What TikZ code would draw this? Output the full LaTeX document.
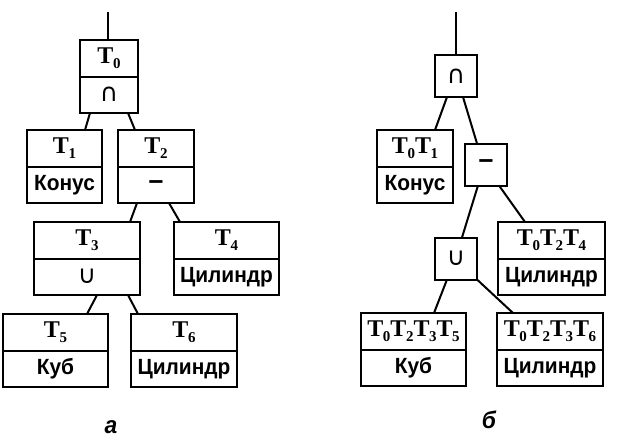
\documentclass[tikz,border=0pt]{standalone}
\usepackage{fontspec}
\setmainfont{Liberation Serif}
\newfontfamily\rusf[FakeStretch=0.95]{Liberation Sans}
\newfontfamily\symf{DejaVu Sans}
\newfontfamily\serf{Liberation Serif}
\newcommand\Tn[1]{T\kern-0.5pt\raisebox{-5pt}{\fontsize{15}{15}\selectfont #1}}
\newcommand\topfont{\serf\bfseries\fontsize{24}{24}\selectfont}
\newcommand\lowfont{\rusf\bfseries\fontsize{22}{22}\selectfont}
\newcommand\opfont{\symf\mdseries\fontsize{25}{25}\selectfont}
\newcommand\minusfont{\rusf\bfseries\fontsize{28}{28}\selectfont}
\newcommand\twobox[6]{%
  \node[cell, minimum width=#4] (#1a) at (#2,#3) {\topfont #5};
  \node[cell, minimum width=#4] (#1b) at (#1a.south) {\lowfont #6};
}
\tikzset{
  cell/.style={draw, line width=2pt, inner sep=0pt, outer sep=0pt, anchor=north, minimum height=36.5pt},
  opbox/.style={draw, line width=2pt, inner sep=0pt, outer sep=0pt, minimum width=42pt, minimum height=42pt},
  link/.style={line width=2pt},
  caption/.style={font=\rusf\bfseries\itshape\fontsize{24}{24}\selectfont, inner sep=0pt}
}
\begin{document}
\begin{tikzpicture}[x=1pt,y=-1pt]
\useasboundingbox (0,0) rectangle (621,445);
% ---------- tree a ----------
\twobox{t0}{109}{40}{58pt}{\Tn0}{\opfont ∩}
\twobox{t1}{64.5}{130}{75pt}{\Tn1}{Конус}
\twobox{t2}{156}{130}{76pt}{\Tn2}{\minusfont –}
\twobox{t3}{87}{222}{106pt}{\Tn3}{\opfont ∪}
\twobox{t4}{226.5}{222}{105pt}{\Tn4}{Цилиндр}
\twobox{t5}{55.5}{314}{105pt}{\Tn5}{Куб}
\twobox{t6}{184}{314}{106pt}{\Tn6}{Цилиндр}
\coordinate (topa) at (108,12);
\draw[link] (topa) -- (topa |- t0a.north);
\draw[link] ([xshift=-19pt]t0b.south) -- ([xshift=20.5pt]t1a.north);
\draw[link] ([xshift=19pt]t0b.south) -- ([xshift=-21pt]t2a.north);
\draw[link] ([xshift=-19pt]t2b.south) -- ([xshift=43pt]t3a.north);
\draw[link] ([xshift=13pt]t2b.south) -- ([xshift=-46.5pt]t4a.north);
\draw[link] ([xshift=10pt]t3b.south) -- ([xshift=31.5pt]t5a.north);
\draw[link] ([xshift=41pt]t3b.south) -- ([xshift=-46pt]t6a.north);
\node[caption] (capa) at (111,427) {а};
% ---------- tree b ----------
\node[opbox] (cap) at (456,76) {\opfont ∩};
\twobox{r1}{415}{130}{76pt}{\Tn0\Tn1}{Конус}
\node[opbox] (mns) at (486,164.5) {\minusfont –};
\node[opbox] (cup) at (456,258.5) {\opfont ∪};
\twobox{r4}{551.5}{222}{107pt}{\Tn0\Tn2\Tn4}{Цилиндр}
\twobox{r5}{413.5}{313}{105pt}{\Tn0\Tn2\Tn3\Tn5}{Куб}
\twobox{r6}{550}{313}{106pt}{\Tn0\Tn2\Tn3\Tn6}{Цилиндр}
\coordinate (topb) at (456,12);
\draw[link] (topb) -- (cap.north);
\draw[link] ([xshift=-9pt]cap.south) -- ([xshift=20pt]r1a.north);
\draw[link] ([xshift=7pt]cap.south) -- ([xshift=-9pt]mns.north);
\draw[link] ([xshift=-8pt]mns.south) -- ([xshift=6pt]cup.north);
\draw[link] ([xshift=13pt]mns.south) -- ([xshift=-26.5pt]r4a.north);
\draw[link] ([xshift=-9pt]cup.south) -- ([xshift=20.5pt]r5a.north);
\draw[link] (cup.south east) -- ([xshift=-37pt]r6a.north);
\node[caption] (capb) at (489,420) {б};
\end{tikzpicture}
\end{document}
